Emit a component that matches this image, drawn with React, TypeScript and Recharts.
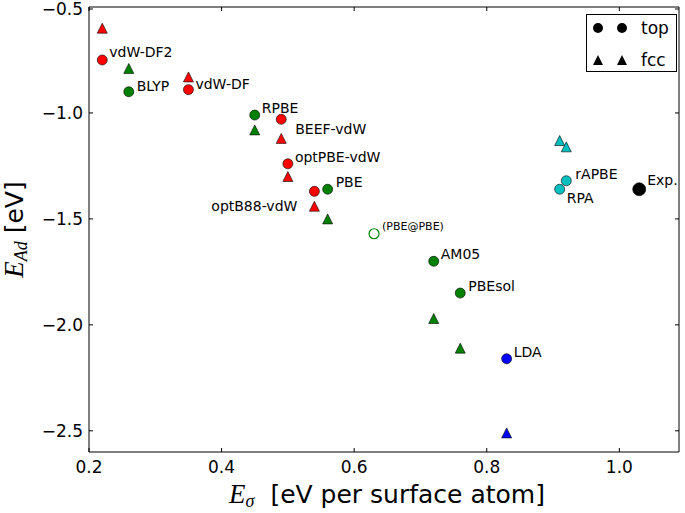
import { Scatter, ScatterChart, XAxis, YAxis } from 'recharts'

const xTicks = [0.2, 0.4, 0.6, 0.8, 1.0]
const yTicks = [-2.5, -2.0, -1.5, -1.0, -0.5]

// red: van der Waals functionals
const redNames = ['vdW-DF2', 'vdW-DF', 'BEEF-vdW', 'optPBE-vdW', 'optB88-vdW']
const redX = [0.22, 0.35, 0.49, 0.5, 0.54]
const redTopY = [-0.75, -0.89, -1.03, -1.24, -1.37]
const redFccY = [-0.6, -0.83, -1.12, -1.3, -1.44]

// green: GGAs
const greenNames = ['BLYP', 'RPBE', 'PBE', 'AM05', 'PBEsol']
const greenX = [0.26, 0.45, 0.56, 0.72, 0.76]
const greenTopY = [-0.9, -1.01, -1.36, -1.7, -1.85]
const greenFccY = [-0.79, -1.08, -1.5, -1.97, -2.11]

const pbeAtPbeNames = ['(PBE@PBE)']
const pbeAtPbeX = [0.63]
const pbeAtPbeY = [-1.57]

// blue: LDA
const blueNames = ['LDA']
const blueX = [0.83]
const blueTopY = [-2.16]
const blueFccY = [-2.51]

// cyan: RPA-type
const cyanNames = ['rAPBE', 'RPA']
const cyanTopX = [0.92, 0.91]
const cyanTopY = [-1.32, -1.36]
const cyanFccX = [0.91, 0.92]
const cyanFccY = [-1.13, -1.16]

const expNames = ['Exp.']
const expX = [1.03]
const expY = [-1.36]

// label placement relative to the marker: dx, dy, anchor
const labelOffsets: Record<string, [number, number, 'start' | 'end']> = {
  'vdW-DF2': [7, -3, 'start'],
  'vdW-DF': [7, -1, 'start'],
  'BEEF-vdW': [14, 15, 'start'],
  'optPBE-vdW': [7, -2, 'start'],
  'optB88-vdW': [-17, 20, 'end'],
  BLYP: [8, -1, 'start'],
  RPBE: [7, -2, 'start'],
  PBE: [8, -2, 'start'],
  AM05: [7, -2, 'start'],
  PBEsol: [8, -2, 'start'],
  '(PBE@PBE)': [8, -4, 'start'],
  LDA: [7, -2, 'start'],
  rAPBE: [9, -2, 'start'],
  RPA: [7, 14, 'start'],
  'Exp.': [8, -4, 'start'],
}

type Pt = { x: number; y: number; name: string }

const toPoints = (xs: number[], ys: number[], names: string[] = []): Pt[] =>
  xs.map((x, i) => ({ x, y: ys[i], name: names[i] ?? '' }))

const FONT = '"DejaVu Sans", sans-serif'
const SERIF = '"Liberation Serif", serif'

function makeShape(kind: 'circle' | 'triangle', fill: string, stroke = '#000', r = 5, sw = 0.6) {
  return (props: any) => {
    const { cx, cy, payload } = props
    const name: string = payload?.name ?? ''
    const off = labelOffsets[name]
    return (
      <g>
        {kind === 'circle' ? (
          <circle cx={cx} cy={cy} r={r} fill={fill} stroke={stroke} strokeWidth={sw} />
        ) : (
          <polygon
            points={`${cx},${cy - r} ${cx - r},${cy + r} ${cx + r},${cy + r}`}
            fill={fill}
            stroke={stroke}
            strokeWidth={sw}
          />
        )}
        {name && off ? (
          <text
            x={cx + off[0]}
            y={cy + off[1]}
            textAnchor={off[2]}
            fontFamily={FONT}
            fontSize={name === '(PBE@PBE)' ? 11 : 14}
            fill="#000"
          >
            {name}
          </text>
        ) : null}
      </g>
    )
  }
}

const BottomTick = (props: any) => {
  const { x, y, payload } = props
  return (
    <g>
      <line x1={x} y1={y} x2={x} y2={y - 4} stroke="#000" />
      <text x={x} y={y + 21} textAnchor="middle" fontFamily={FONT} fontSize={17} fill="#000">
        {payload.value.toFixed(1)}
      </text>
    </g>
  )
}

const TopTick = (props: any) => {
  const { x, y } = props
  return <line x1={x} y1={y} x2={x} y2={y + 4} stroke="#000" />
}

const LeftTick = (props: any) => {
  const { x, y, payload } = props
  return (
    <g>
      <line x1={x} y1={y} x2={x + 4} y2={y} stroke="#000" />
      <text x={x - 6} y={y + 6} textAnchor="end" fontFamily={FONT} fontSize={17} fill="#000">
        {payload.value.toFixed(1).replace('-', '\u2212')}
      </text>
    </g>
  )
}

const RightTick = (props: any) => {
  const { x, y } = props
  return <line x1={x} y1={y} x2={x - 4} y2={y} stroke="#000" />
}

const XLabel = (props: any) => {
  const vb = props.viewBox
  const cx = vb.x + vb.width / 2
  return (
    <text x={cx + 3} y={503} textAnchor="middle" fontSize={25} fill="#000" fontFamily={FONT}>
      <tspan fontFamily={SERIF} fontStyle="italic" fontSize={27}>E</tspan>
      <tspan fontFamily={SERIF} fontStyle="italic" fontSize={18} dy={4}>σ</tspan>
      <tspan dy={-4}>{'\u00a0\u00a0[eV per surface atom]'}</tspan>
    </text>
  )
}

const YLabel = (props: any) => {
  const vb = props.viewBox
  const cy = vb.y + vb.height / 2
  return (
    <text
      x={23}
      y={cy}
      transform={`rotate(-90 23 ${cy})`}
      textAnchor="middle"
      fontSize={25}
      fill="#000"
      fontFamily={FONT}
    >
      <tspan fontFamily={SERIF} fontStyle="italic" fontSize={27}>E</tspan>
      <tspan fontFamily={SERIF} fontStyle="italic" fontSize={18} dy={4}>Ad</tspan>
      <tspan dy={-4}>{' [eV]'}</tspan>
    </text>
  )
}

function LegendBox() {
  return (
    <svg width={91} height={58} style={{ position: 'absolute', left: 586, top: 14 }}>
      <rect x={0.5} y={0.5} width={90} height={57} fill="#fff" stroke="#000" />
      <circle cx={12} cy={14} r={5} fill="#000" />
      <circle cx={36} cy={14} r={5} fill="#000" />
      <text x={55} y={20} fontFamily={FONT} fontSize={17}>top</text>
      <polygon points="12,41 7,51 17,51" fill="#000" />
      <polygon points="36,41 31,51 41,51" fill="#000" />
      <text x={55} y={52} fontFamily={FONT} fontSize={17}>fcc</text>
    </svg>
  )
}

export default function App() {
  return (
    <div style={{ position: 'relative', width: 685, height: 513, background: '#fff' }}>
      <style>{'body{margin:0;background:#fff}'}</style>
      <ScatterChart width={685} height={513} margin={{ top: 6, right: 5, bottom: 0, left: 0 }}>
        <XAxis
          xAxisId={0}
          type="number"
          dataKey="x"
          domain={[0.2, 1.09]}
          allowDataOverflow
          ticks={xTicks}
          height={61}
          tickSize={0}
          tickMargin={0}
          tickLine={false}
          tick={<BottomTick />}
          axisLine={{ stroke: '#000' }}
          label={<XLabel />}
        />
        <XAxis
          xAxisId="top"
          orientation="top"
          type="number"
          dataKey="x"
          domain={[0.2, 1.09]}
          allowDataOverflow
          ticks={xTicks}
          height={1}
          tickSize={0}
          tickMargin={0}
          tickLine={false}
          tick={<TopTick />}
          axisLine={{ stroke: '#000' }}
        />
        <YAxis
          yAxisId={0}
          type="number"
          dataKey="y"
          domain={[-2.6, -0.5]}
          allowDataOverflow
          ticks={yTicks}
          width={89}
          tickSize={0}
          tickMargin={0}
          tickLine={false}
          tick={<LeftTick />}
          axisLine={{ stroke: '#000' }}
          label={<YLabel />}
        />
        <YAxis
          yAxisId="right"
          orientation="right"
          type="number"
          dataKey="y"
          domain={[-2.6, -0.5]}
          allowDataOverflow
          ticks={yTicks}
          width={1}
          tickSize={0}
          tickMargin={0}
          tickLine={false}
          tick={<RightTick />}
          axisLine={{ stroke: '#000' }}
        />
        <Scatter data={toPoints(redX, redFccY)} shape={makeShape('triangle', '#ff0000')} isAnimationActive={false} />
        <Scatter data={toPoints(redX, redTopY, redNames)} shape={makeShape('circle', '#ff0000')} isAnimationActive={false} />
        <Scatter data={toPoints(greenX, greenFccY)} shape={makeShape('triangle', '#008000')} isAnimationActive={false} />
        <Scatter data={toPoints(greenX, greenTopY, greenNames)} shape={makeShape('circle', '#008000')} isAnimationActive={false} />
        <Scatter
          data={toPoints(pbeAtPbeX, pbeAtPbeY, pbeAtPbeNames)}
          shape={makeShape('circle', '#fff', '#008000', 5, 1.2)}
          isAnimationActive={false}
        />
        <Scatter data={toPoints(blueX, blueFccY)} shape={makeShape('triangle', '#0000ff')} isAnimationActive={false} />
        <Scatter data={toPoints(blueX, blueTopY, blueNames)} shape={makeShape('circle', '#0000ff')} isAnimationActive={false} />
        <Scatter data={toPoints(cyanFccX, cyanFccY)} shape={makeShape('triangle', '#00bfbf')} isAnimationActive={false} />
        <Scatter data={toPoints(cyanTopX, cyanTopY, cyanNames)} shape={makeShape('circle', '#00bfbf')} isAnimationActive={false} />
        {/* top/right axes share the same domains; hooking this series to them makes them render */}
        <Scatter
          xAxisId="top"
          yAxisId="right"
          data={toPoints(expX, expY, expNames)}
          shape={makeShape('circle', '#000', '#000', 6.5)}
          isAnimationActive={false}
        />
      </ScatterChart>
      <LegendBox />
    </div>
  )
}
